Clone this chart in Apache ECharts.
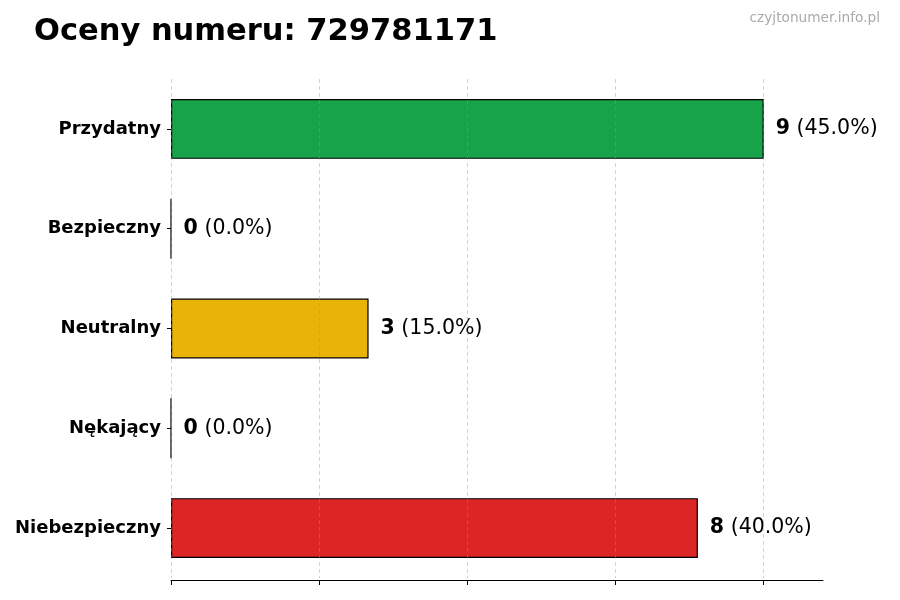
<!DOCTYPE html>
<html>
<head>
<meta charset="utf-8">
<script src="https://cdn.jsdelivr.net/npm/echarts@6/dist/echarts.min.js"></script>
<style>
    html, body { margin: 0; padding: 0; background: #fff; }
    #main { width: 900px; height: 600px; }
</style>
</head>
<body>
<div id="main"></div>
<script>
var categories = ['Przydatny', 'Bezpieczny', 'Neutralny', 'Nękający', 'Niebezpieczny'];
var counts = [9, 0, 3, 0, 8];
var colors = ['#17a34a', '#8fbc8f', '#eab308', '#f97316', '#dc2626'];
var xTicks = [0, 2.25, 4.5, 6.75, 9];

var total = counts.reduce(function (a, b) { return a + b; }, 0);
var chart = echarts.init(document.getElementById('main'));

var option = {
    backgroundColor: '#fff',
    animation: false,
    title: [{
        text: 'Oceny numeru: 729781171',
        left: 29,
        top: 12,
        textStyle: { fontFamily: 'DejaVu Sans', fontWeight: 'bold', fontSize: 30.5, color: '#000' }
    }, {
        text: 'czyjtonumer.info.pl',
        right: 15,
        top: 6,
        textStyle: { fontFamily: 'DejaVu Sans', fontWeight: 'normal', fontSize: 13.7, color: '#aaaaaa' }
    }],
    grid: { left: 171, right: 77, top: 79, bottom: 22, containLabel: false },
    xAxis: {
        type: 'value',
        min: 0,
        max: 9.9,
        offset: 2,
        z: 3,
        axisLine: { show: true, lineStyle: { color: '#000', width: 1 } },
        axisTick: { show: true, length: 5, lineStyle: { color: '#000' }, customValues: xTicks },
        axisLabel: { show: false },
        splitLine: { show: true, lineStyle: { color: 'rgba(150,150,150,0.4)', type: [4, 3], width: 1 } }
    },
    yAxis: {
        type: 'category',
        inverse: true,
        data: categories,
        axisLine: { show: false },
        axisTick: { show: true, alignWithLabel: true, length: 4, lineStyle: { color: '#000' } },
        axisLabel: { margin: 10, fontFamily: 'DejaVu Sans', fontWeight: 'bold', fontSize: 18, color: '#000' }
    },
    series: [{
        type: 'bar',
        barWidth: '60%',
        data: counts.map(function (v, i) {
            return { value: v, itemStyle: { color: colors[i] } };
        }),
        itemStyle: { borderColor: '#000', borderWidth: 1.2 },
        label: {
            show: true,
            position: 'right',
            distance: 12,
            formatter: function (p) {
                var pct = (p.value / total * 100).toFixed(1);
                return '{b|' + p.value + '}{n| (' + pct + '%)}';
            },
            rich: {
                b: { fontFamily: 'DejaVu Sans', fontWeight: 'bold', fontSize: 20.5, color: '#000' },
                n: { fontFamily: 'DejaVu Sans', fontWeight: 'normal', fontSize: 20.5, color: '#000' }
            }
        }
    }]
};
chart.setOption(option);
</script>
</body>
</html>
